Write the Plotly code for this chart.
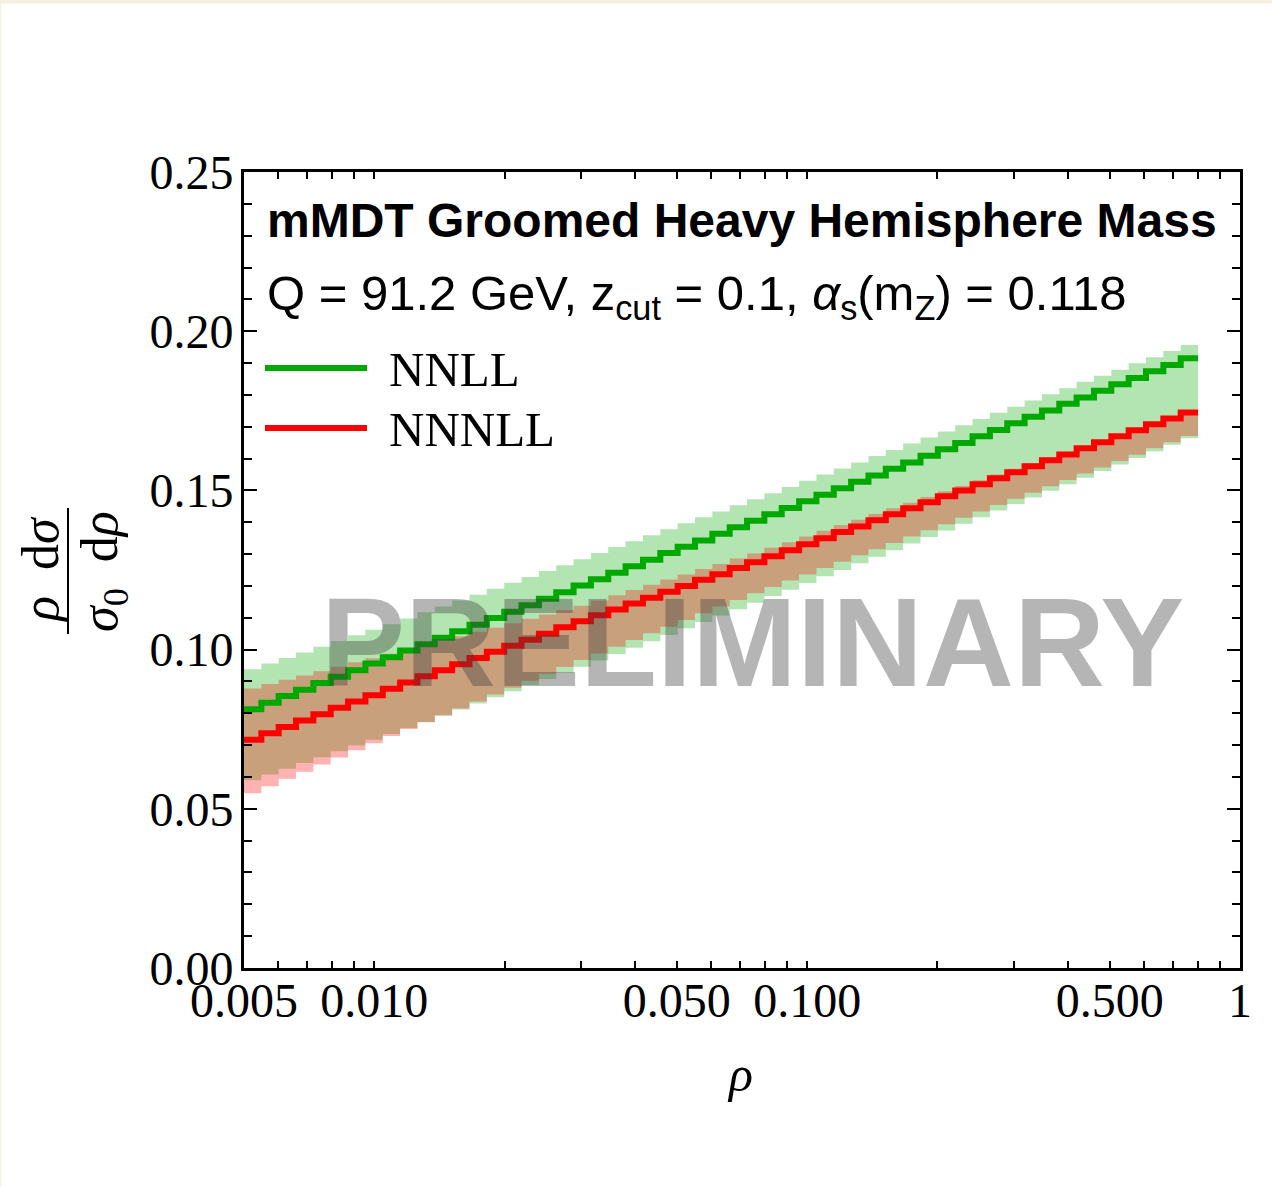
import numpy as np
import plotly.graph_objects as go

# Binning of the groomed heavy hemisphere mass: 55 log-spaced bins in rho
rho_min, rho_max, n_bins = 0.005, 0.8, 55

# NNLL central value and scale-variation band
nnll_central = [0.0813, 0.0833, 0.0854, 0.0874, 0.0895, 0.0915, 0.0935, 0.0956, 0.0976, 0.0997,
                0.1017, 0.1037, 0.1058, 0.1078, 0.1099, 0.1119, 0.1139, 0.1160, 0.1180, 0.1201,
                0.1221, 0.1241, 0.1262, 0.1282, 0.1303, 0.1323, 0.1343, 0.1364, 0.1384, 0.1405,
                0.1425, 0.1445, 0.1466, 0.1486, 0.1507, 0.1527, 0.1547, 0.1568, 0.1588, 0.1609,
                0.1629, 0.1649, 0.1670, 0.1690, 0.1711, 0.1731, 0.1751, 0.1772, 0.1792, 0.1813,
                0.1833, 0.1853, 0.1874, 0.1894, 0.1915]
nnll_upper = [0.0938, 0.0956, 0.0974, 0.0991, 0.1009, 0.1027, 0.1045, 0.1062, 0.1080, 0.1098,
              0.1117, 0.1135, 0.1154, 0.1172, 0.1191, 0.1210, 0.1228, 0.1247, 0.1265, 0.1284,
              0.1303, 0.1322, 0.1340, 0.1359, 0.1378, 0.1397, 0.1416, 0.1434, 0.1453, 0.1472,
              0.1491, 0.1511, 0.1530, 0.1550, 0.1569, 0.1588, 0.1608, 0.1627, 0.1647, 0.1666,
              0.1685, 0.1705, 0.1724, 0.1744, 0.1763, 0.1782, 0.1802, 0.1821, 0.1841, 0.1860,
              0.1879, 0.1899, 0.1918, 0.1938, 0.1957]
nnll_lower = [0.0590, 0.0608, 0.0626, 0.0644, 0.0662, 0.0681, 0.0699, 0.0717, 0.0735, 0.0754,
              0.0773, 0.0792, 0.0812, 0.0831, 0.0850, 0.0869, 0.0889, 0.0908, 0.0927, 0.0946,
              0.0966, 0.0986, 0.1006, 0.1026, 0.1046, 0.1067, 0.1087, 0.1107, 0.1127, 0.1147,
              0.1168, 0.1188, 0.1209, 0.1230, 0.1250, 0.1271, 0.1292, 0.1312, 0.1333, 0.1354,
              0.1374, 0.1395, 0.1416, 0.1437, 0.1457, 0.1478, 0.1499, 0.1519, 0.1540, 0.1561,
              0.1581, 0.1602, 0.1623, 0.1643, 0.1664]

# NNNLL central value and scale-variation band
nnnll_central = [0.0717, 0.0737, 0.0757, 0.0777, 0.0797, 0.0817, 0.0837, 0.0857, 0.0877, 0.0897,
                 0.0916, 0.0935, 0.0954, 0.0974, 0.0993, 0.1012, 0.1031, 0.1050, 0.1070, 0.1089,
                 0.1108, 0.1126, 0.1145, 0.1163, 0.1182, 0.1200, 0.1219, 0.1237, 0.1256, 0.1274,
                 0.1293, 0.1312, 0.1331, 0.1350, 0.1369, 0.1387, 0.1406, 0.1425, 0.1444, 0.1463,
                 0.1482, 0.1500, 0.1519, 0.1538, 0.1557, 0.1576, 0.1595, 0.1613, 0.1632, 0.1651,
                 0.1670, 0.1689, 0.1708, 0.1726, 0.1745]
nnnll_upper = [0.0878, 0.0892, 0.0905, 0.0919, 0.0932, 0.0946, 0.0960, 0.0973, 0.0987, 0.1001,
               0.1015, 0.1028, 0.1042, 0.1056, 0.1069, 0.1083, 0.1097, 0.1110, 0.1124, 0.1138,
               0.1154, 0.1171, 0.1187, 0.1204, 0.1220, 0.1236, 0.1253, 0.1269, 0.1286, 0.1302,
               0.1320, 0.1337, 0.1355, 0.1373, 0.1391, 0.1408, 0.1426, 0.1444, 0.1461, 0.1479,
               0.1497, 0.1514, 0.1532, 0.1550, 0.1568, 0.1585, 0.1603, 0.1621, 0.1638, 0.1656,
               0.1674, 0.1692, 0.1709, 0.1727, 0.1745]
nnnll_lower = [0.0549, 0.0571, 0.0594, 0.0616, 0.0639, 0.0661, 0.0684, 0.0706, 0.0729, 0.0751,
               0.0772, 0.0794, 0.0815, 0.0837, 0.0859, 0.0880, 0.0902, 0.0924, 0.0945, 0.0967,
               0.0988, 0.1009, 0.1030, 0.1051, 0.1072, 0.1093, 0.1114, 0.1135, 0.1156, 0.1177,
               0.1197, 0.1217, 0.1236, 0.1256, 0.1276, 0.1296, 0.1315, 0.1335, 0.1355, 0.1375,
               0.1394, 0.1414, 0.1434, 0.1454, 0.1474, 0.1493, 0.1513, 0.1533, 0.1553, 0.1572,
               0.1592, 0.1612, 0.1632, 0.1651, 0.1671]

# Axis ticks
x_tick_vals = [0.005, 0.006, 0.007, 0.008, 0.009, 0.01, 0.02, 0.03, 0.04, 0.05, 0.06, 0.07,
               0.08, 0.09, 0.1, 0.2, 0.3, 0.4, 0.5, 0.6, 0.7, 0.8, 0.9, 1.0]
x_tick_labels = {0.005: "0.005", 0.01: "0.010", 0.05: "0.050", 0.1: "0.100", 0.5: "0.500", 1.0: "1"}
y_tick_vals = [0.0, 0.05, 0.10, 0.15, 0.20, 0.25]

GREEN = "rgb(0,168,0)"
RED = "rgb(255,0,0)"
GREEN_FILL = "rgba(0,170,0,0.30)"
RED_FILL = "rgba(255,0,0,0.30)"

edges = np.logspace(np.log10(rho_min), np.log10(rho_max), n_bins + 1)


def step_y(vals):
    # repeat the last bin so the final step reaches the right bin edge
    return list(vals) + [vals[-1]]


fig = go.Figure()


def add_band(lower, upper, color):
    fig.add_trace(go.Scatter(x=edges, y=step_y(lower), mode="lines", line=dict(width=0, shape="hv"),
                             hoverinfo="skip", showlegend=False))
    fig.add_trace(go.Scatter(x=edges, y=step_y(upper), mode="lines", line=dict(width=0, shape="hv"),
                             fill="tonexty", fillcolor=color, hoverinfo="skip", showlegend=False))


add_band(nnll_lower, nnll_upper, GREEN_FILL)
add_band(nnnll_lower, nnnll_upper, RED_FILL)

fig.add_trace(go.Scatter(x=edges, y=step_y(nnll_central), mode="lines", name="NNLL",
                         line=dict(color=GREEN, width=6, shape="hv"), showlegend=False))
fig.add_trace(go.Scatter(x=edges, y=step_y(nnnll_central), mode="lines", name="NNNLL",
                         line=dict(color=RED, width=6, shape="hv"), showlegend=False))

W, H = 1272, 1187
L, R, T, B = 244, 32, 172, 219
PW, PH = W - L - R, H - T - B


def px(xp):
    return (xp - L) / PW


def py(yp):
    return (H - B - yp) / PH


SERIF = "Liberation Serif, Times New Roman, serif"
SANS = "Liberation Sans, Arial, Helvetica, sans-serif"

annotations = [
    dict(x=px(265), y=py(220), text="<b>mMDT Groomed Heavy Hemisphere Mass</b>",
         font=dict(family=SANS, size=48, color="black"), xanchor="left", yanchor="middle"),
    dict(x=px(265), y=py(296),
         text="Q = 91.2 GeV, z<sub>cut</sub> = 0.1, <i>α</i><sub>s</sub>(m<sub>Z</sub>) = 0.118",
         font=dict(family=SANS, size=49, color="black"), xanchor="left", yanchor="middle"),
    dict(x=px(387), y=py(369), text="NNLL", font=dict(family=SERIF, size=49, color="black"),
         xanchor="left", yanchor="middle"),
    dict(x=px(387), y=py(429), text="NNNLL", font=dict(family=SERIF, size=49, color="black"),
         xanchor="left", yanchor="middle"),
    dict(x=px(752), y=py(642), text="<b>PRELIMINARY</b>",
         font=dict(family=SANS, size=126, color="rgba(60,60,60,0.38)"),
         xanchor="center", yanchor="middle"),
    # axis titles
    dict(x=px(740), y=py(1074), text="<i>ρ</i>", font=dict(family=SERIF, size=50, color="black"),
         xanchor="center", yanchor="middle"),
    dict(x=px(40), y=py(570), text="<i>ρ</i>&nbsp; d<i>σ</i>", textangle=-90,
         font=dict(family=SERIF, size=52, color="black"), xanchor="center", yanchor="middle"),
    dict(x=px(103), y=py(572), text="<i>σ</i><sub>0</sub>&nbsp; d<i>ρ</i>", textangle=-90,
         font=dict(family=SERIF, size=52, color="black"), xanchor="center", yanchor="middle"),
]
for a in annotations:
    a.update(xref="paper", yref="paper", showarrow=False)

shapes = [
    # legend line samples
    dict(type="line", x0=px(265), x1=px(367), y0=py(368), y1=py(368), line=dict(color=GREEN, width=6)),
    dict(type="line", x0=px(265), x1=px(367), y0=py(428), y1=py(428), line=dict(color=RED, width=6)),
    # fraction bar of the y-axis title
    dict(type="line", x0=px(68), x1=px(68), y0=py(508), y1=py(634), line=dict(color="black", width=2)),
    # thin frame strip along the top and left edges of the canvas
    dict(type="rect", x0=px(0), x1=px(W), y0=py(3.5), y1=py(0), fillcolor="#f7efdf", line=dict(width=0),
         layer="below"),
    dict(type="rect", x0=px(0), x1=px(1.2), y0=py(H), y1=py(0), fillcolor="#f7efdf", line=dict(width=0),
         layer="below"),
]
for s in shapes:
    s.update(xref="paper", yref="paper")

fig.update_layout(
    width=W, height=H,
    margin=dict(l=L, r=R, t=T, b=B, pad=0),
    paper_bgcolor="white", plot_bgcolor="white",
    showlegend=False,
    annotations=annotations, shapes=shapes,
    xaxis=dict(
        type="log", range=[np.log10(0.005), 0.0],
        tickmode="array", tickvals=x_tick_vals,
        ticktext=[x_tick_labels.get(v, "") for v in x_tick_vals],
        ticks="inside", ticklen=7, tickwidth=1.5, tickcolor="black",
        showline=True, linewidth=3, linecolor="black", mirror="allticks",
        showgrid=False, zeroline=False,
        tickfont=dict(family=SERIF, size=48, color="black"), ticklabelstandoff=-12,
    ),
    yaxis=dict(
        range=[0, 0.25], tickmode="array", tickvals=y_tick_vals,
        ticktext=[f"{v:.2f}" for v in y_tick_vals],
        ticks="inside", ticklen=13, tickwidth=2, tickcolor="black",
        minor=dict(dtick=0.01, ticks="inside", ticklen=8, tickwidth=2, tickcolor="black", showgrid=False),
        showline=True, linewidth=3, linecolor="black", mirror="allticks",
        showgrid=False, zeroline=False,
        tickfont=dict(family=SERIF, size=48, color="black"), ticklabelstandoff=-2,
    ),
)

fig.write_html("out.html")
